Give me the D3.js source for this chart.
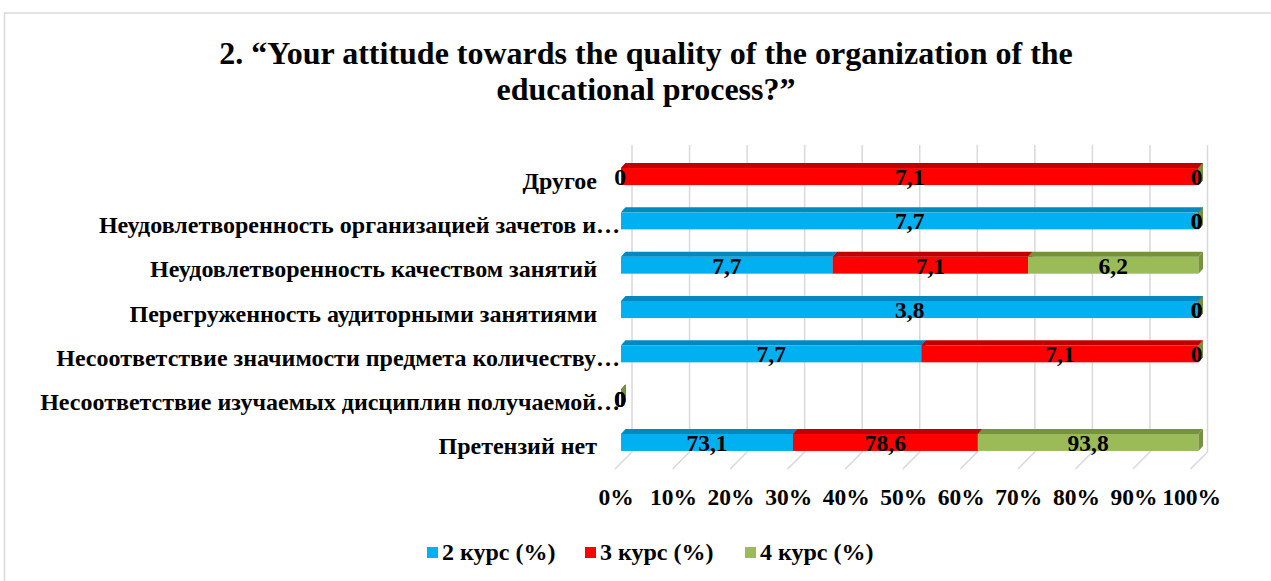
<!DOCTYPE html>
<html>
<head>
<meta charset="utf-8">
<script src="https://cdn.jsdelivr.net/npm/d3@7"></script>
<style>
  body { margin: 0; background: #fff; }
  svg text { font-family: 'Liberation Serif', 'Times New Roman', serif; font-weight: bold; }
</style>
</head>
<body>
<svg width="1271" height="581"></svg>
<script>
// data
var categories = [
  "Другое",
  "Неудовлетворенность организацией зачетов и…",
  "Неудовлетворенность качеством занятий",
  "Перегруженность аудиторными занятиями",
  "Несоответствие значимости предмета количеству…",
  "Несоответствие изучаемых дисциплин получаемой…",
  "Претензий нет"
];
var seriesNames = ["2 курс (%)", "3 курс (%)", "4 курс (%)"];
var kurs2 = [0, 7.7, 7.7, 3.8, 7.7, 0, 73.1];
var kurs3 = [7.1, 0, 7.1, 0, 7.1, 0, 78.6];
var kurs4 = [0, 0, 6.2, 0, 0, 0, 93.8];
var tickValues = [0, 10, 20, 30, 40, 50, 60, 70, 80, 90, 100];

var colors = ["#00b0f0", "#ff0000", "#9bbb59"];
var darkColors = ["#0089bf", "#c00000", "#76923c"];

var svg = d3.select("svg");

// chart frame
svg.append("rect")
  .attr("x", 4.5).attr("y", 13)
  .attr("width", 1300).attr("height", 600)
  .attr("fill", "#fff")
  .attr("stroke", "#d9d9d9")
  .attr("stroke-width", 1.5);

// title
var title = svg.append("text")
  .attr("text-anchor", "middle")
  .style("font-size", "32px");
title.append("tspan").attr("x", 646).attr("y", 64)
  .text("2. “Your attitude towards the quality of the organization of the");
title.append("tspan").attr("x", 646).attr("y", 100)
  .text("educational process?”");

// scales
var depthX = 4.5, depthY = 5;
var xFront = d3.scaleLinear().domain([0, 100]).range([621, 1198.5]);
var xWall = d3.scaleLinear().domain([0, 100]).range([632, 1207.5]);
var xFloor = d3.scaleLinear().domain([0, 100]).range([615, 1190.5]);

var y = d3.scaleBand()
  .domain(categories)
  .range([145, 474])
  .paddingInner(0.616)
  .paddingOuter(0.52);

// gridlines (back wall + floor)
var grid = svg.append("g").attr("fill", "none").attr("stroke", "#d9d9d9").attr("stroke-width", 1.5);
grid.selectAll("path")
  .data(tickValues)
  .enter().append("path")
  .attr("d", function(d) {
    return "M" + xWall(d) + ",145 L" + xWall(d) + ",452 L" + xFloor(d) + ",469";
  });

// tick labels
svg.append("g").selectAll("text")
  .data(tickValues)
  .enter().append("text")
  .attr("x", function(d) { return xFloor(d) + 1; })
  .attr("y", 505)
  .attr("text-anchor", "middle")
  .style("font-size", "23.5px")
  .text(function(d) { return d + "%"; });

// category labels
svg.append("g").selectAll("text")
  .data(categories)
  .enter().append("text")
  .attr("x", function(d) { return d.slice(-1) === "…" ? 620 : 597; })
  .attr("y", function(d) { return y(d) + y.bandwidth() / 2 + 12; })
  .attr("text-anchor", "end")
  .style("font-size", "24px")
  .text(function(d) { return d; });

// stacked rows, as percentages of row total
var rows = categories.map(function(c, i) {
  var vals = [kurs2[i], kurs3[i], kurs4[i]];
  var total = d3.sum(vals);
  var acc = 0;
  return vals.map(function(v, s) {
    var p = total ? v / total * 100 : 0;
    var seg = { cat: c, s: s, value: v, p0: acc, p1: acc + p };
    acc += p;
    return seg;
  });
});

var bars = svg.append("g");
rows.forEach(function(row) {
  row.forEach(function(seg) {
    var x0 = xFront(seg.p0), x1 = xFront(seg.p1);
    var y0 = y(seg.cat), h = y.bandwidth();
    var g = bars.append("g");
    if (x1 > x0) {
      g.append("rect")
        .attr("x", x0).attr("y", y0)
        .attr("width", x1 - x0).attr("height", h)
        .attr("fill", colors[seg.s]);
      g.append("path")
        .attr("d", "M" + x0 + "," + y0 + "L" + (x0 + depthX) + "," + (y0 - depthY) +
          "L" + (x1 + depthX) + "," + (y0 - depthY) + "L" + x1 + "," + y0 + "Z")
        .attr("fill", darkColors[seg.s]);
    }
    g.append("path")
      .attr("d", "M" + x1 + "," + y0 + "L" + (x1 + depthX) + "," + (y0 - depthY) +
        "L" + (x1 + depthX) + "," + (y0 + h - depthY) + "L" + x1 + "," + (y0 + h) + "Z")
      .attr("fill", darkColors[seg.s]);
  });
});

// data labels
var labels = svg.append("g");
rows.forEach(function(row) {
  row.forEach(function(seg) {
    var x0 = xFront(seg.p0), x1 = xFront(seg.p1);
    var cx = (x0 + x1) / 2;
    if (seg.value === 0) cx = seg.p1 >= 99.9 ? x1 - 2 : x0 - 1;
    labels.append("text")
      .attr("x", cx)
      .attr("y", y(seg.cat) + y.bandwidth() / 2 + 8.5)
      .attr("text-anchor", "middle")
      .style("font-size", "23.5px")
      .text(String(seg.value).replace(".", ","));
  });
});

// legend
var legendX = [427, 585, 745];
var legend = svg.append("g").selectAll("g")
  .data(seriesNames)
  .enter().append("g")
  .attr("transform", function(d, i) { return "translate(" + legendX[i] + ",547)"; });
legend.append("rect")
  .attr("width", 11).attr("height", 11)
  .attr("fill", function(d, i) { return colors[i]; });
legend.append("text")
  .attr("x", 15).attr("y", 13)
  .style("font-size", "24px")
  .text(function(d) { return d; });
</script>
</body>
</html>
